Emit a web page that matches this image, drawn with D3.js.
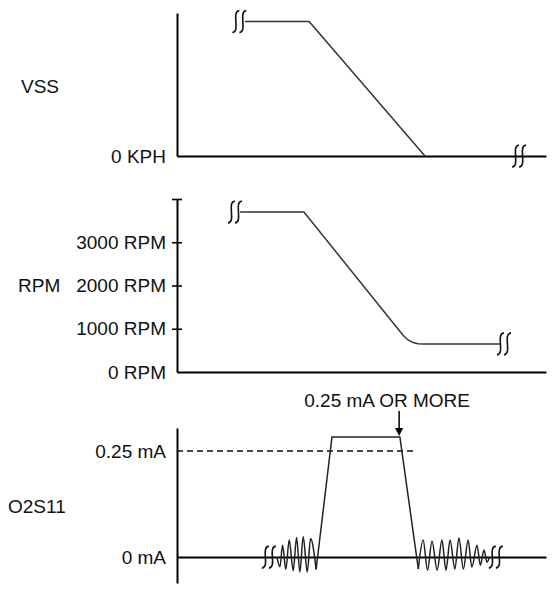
<!DOCTYPE html>
<html>
<head>
<meta charset="utf-8">
<script src="https://cdn.jsdelivr.net/npm/d3@7"></script>
<style>
  body { margin: 0; background: #fff; }
  text { font-family: "Liberation Sans", Arial, sans-serif; }
</style>
</head>
<body>
<div id="chart"></div>
<script>
// time runs 0..100 across all three traces (arbitrary units)
var timeDomain = [0, 100];

// VSS trace
var vssT = [18.4, 35.8, 67.2];
var vssKph = [47, 47, 0];
var vssMax = 50;
var vssBreaks = [[16.9, 47], [92.7, 0]];

// RPM trace
var rpmT = [17.1, 34.4, 61.2, 62.6, 64.0, 65.3, 66.9, 87.5];
var rpmVal = [3700, 3700, 855, 740, 680, 655, 650, 650];
var rpmTicks = [0, 1000, 2000, 3000, 4000];
var rpmBreaks = [[15.7, 3700], [88.6, 650]];

// O2S11 trace (mA): noise before, pulse, noise after
var o2LeftT = [27.1, 27.9, 28.6, 29.5, 30.4, 31.5, 32.4, 33.3, 34.2, 35.3, 36.2, 37.7];
var o2LeftMa = [0, -0.023, 0.028, -0.029, 0.040, -0.032, 0.046, -0.035, 0.048, -0.035, 0.044, -0.029];
var o2PulseT = [37.7, 42.0, 60.4, 65.4];
var o2PulseMa = [-0.029, 0.283, 0.283, -0.028];
var o2RightT = [65.4, 66.7, 67.9, 69.1, 70.5, 71.8, 72.9, 74.0, 75.3, 76.4, 77.6, 78.9, 79.9, 81.3, 82.2, 83.2, 84.0, 84.7];
var o2RightMa = [-0.028, 0.040, -0.031, 0.038, -0.031, 0.040, -0.031, 0.040, -0.028, 0.045, -0.028, 0.040, -0.024, 0.028, -0.019, 0.017, -0.012, 0];
var o2Ticks = [0, 0.25];
var o2Threshold = 0.25;
var o2ThresholdEnd = 64.5;
var o2ArrowAt = [60.2, 0.283];
var o2Breaks = [[24.9, 0], [86.4, 0]];

var width = 556, height = 593;
var fontSize = 19;

var svg = d3.select("#chart")
  .append("svg")
    .attr("width", width)
    .attr("height", height);

svg.append("rect")
  .attr("width", width)
  .attr("height", height)
  .attr("fill", "#fff");

var x = d3.scaleLinear().domain(timeDomain).range([177, 546]);

var yV = d3.scaleLinear().domain([0, vssMax]).range([156, 13]);
var yR = d3.scaleLinear().domain([0, 4000]).range([372, 199]);
var yO = d3.scaleLinear().domain([-0.061, 0.304]).range([583, 428]);

function zip(a, b) {
  return a.map(function(d, i) { return [d, b[i]]; });
}

function styleAxis(g) {
  g.attr("font-family", "Liberation Sans, Arial, sans-serif")
   .attr("font-size", fontSize);
  g.select(".domain").attr("stroke", "#000").attr("stroke-width", 2);
  g.selectAll(".tick text").attr("fill", "#111");
  g.selectAll(".tick line").attr("stroke", "#000").attr("stroke-width", 1.6).attr("x1", 5);
  g.selectAll(".tick").filter(function(d) { return d === 0 || d === 0.25; })
    .select("line").remove();
}

function xAxisAt(y) {
  var g = svg.append("g")
    .attr("transform", "translate(0," + y + ")")
    .call(d3.axisBottom(x).tickValues([]).tickSizeOuter(0));
  g.select(".domain").attr("stroke", "#000").attr("stroke-width", 2);
}

// break symbol (two wavy strokes)
function breakMark(cx, cy) {
  var p = "";
  [-3.5, 3.5].forEach(function(dx) {
    var c = cx + dx;
    p += "M" + (c + 3.5) + "," + (cy - 11) +
         "C" + (c - 5) + "," + (cy - 10) + " " + (c + 5) + "," + (cy + 10) + " " + (c - 3.5) + "," + (cy + 11);
  });
  return p;
}

function drawBreaks(list, yScale) {
  svg.append("g")
    .selectAll("path")
    .data(list)
    .enter()
    .append("path")
    .attr("d", function(d) { return breakMark(x(d[0]), yScale(d[1])); })
    .attr("fill", "none")
    .attr("stroke", "#111")
    .attr("stroke-width", 1.6);
}

function rowLabel(txt, px, py) {
  svg.append("text")
    .attr("x", px)
    .attr("y", py)
    .attr("dy", "0.35em")
    .attr("font-size", fontSize)
    .attr("fill", "#111")
    .text(txt);
}

// ---- VSS ----
svg.append("g")
  .attr("transform", "translate(177,0)")
  .call(d3.axisLeft(yV).tickValues([0]).tickFormat(function() { return "0 KPH"; })
    .tickSize(5).tickPadding(6).tickSizeOuter(0))
  .call(styleAxis);
xAxisAt(yV(0));

svg.append("path")
  .datum(zip(vssT, vssKph))
  .attr("d", d3.line().x(function(d) { return x(d[0]); }).y(function(d) { return yV(d[1]); }))
  .attr("fill", "none")
  .attr("stroke", "#333")
  .attr("stroke-width", 1.5);
drawBreaks(vssBreaks, yV);
rowLabel("VSS", 21, 86);

// ---- RPM ----
svg.append("g")
  .attr("transform", "translate(177,0)")
  .call(d3.axisLeft(yR).tickValues(rpmTicks)
    .tickFormat(function(d) { return d === 4000 ? "" : d + " RPM"; })
    .tickSize(5).tickPadding(6).tickSizeOuter(0))
  .call(styleAxis);
xAxisAt(yR(0));

svg.append("path")
  .datum(zip(rpmT, rpmVal))
  .attr("d", d3.line().x(function(d) { return x(d[0]); }).y(function(d) { return yR(d[1]); }))
  .attr("fill", "none")
  .attr("stroke", "#333")
  .attr("stroke-width", 1.5);
drawBreaks(rpmBreaks, yR);
rowLabel("RPM", 18, 285);

// ---- O2S11 ----
svg.append("g")
  .attr("transform", "translate(177,0)")
  .call(d3.axisLeft(yO).tickValues(o2Ticks)
    .tickFormat(function(d) { return d + " mA"; })
    .tickSize(5).tickPadding(6).tickSizeOuter(0))
  .call(styleAxis);
xAxisAt(yO(0));

svg.append("line")
  .attr("x1", x(0)).attr("x2", x(o2ThresholdEnd))
  .attr("y1", yO(o2Threshold)).attr("y2", yO(o2Threshold))
  .attr("stroke", "#111")
  .attr("stroke-width", 1.4)
  .attr("stroke-dasharray", "6,4");

var waveLine = d3.line()
  .x(function(d) { return x(d[0]); })
  .y(function(d) { return yO(d[1]); })
  .curve(d3.curveMonotoneX);
var pulseLine = d3.line()
  .x(function(d) { return x(d[0]); })
  .y(function(d) { return yO(d[1]); });

svg.append("path").datum(zip(o2LeftT, o2LeftMa))
  .attr("d", waveLine)
  .attr("fill", "none").attr("stroke", "#222").attr("stroke-width", 1.5);
svg.append("path").datum(zip(o2PulseT, o2PulseMa))
  .attr("d", pulseLine)
  .attr("fill", "none").attr("stroke", "#222").attr("stroke-width", 1.5);
svg.append("path").datum(zip(o2RightT, o2RightMa))
  .attr("d", waveLine)
  .attr("fill", "none").attr("stroke", "#222").attr("stroke-width", 1.5);
drawBreaks(o2Breaks, yO);

// arrow + callout
var ax = x(o2ArrowAt[0]), ay = yO(o2ArrowAt[1]) - 1;
svg.append("line")
  .attr("x1", ax).attr("x2", ax)
  .attr("y1", ay - 25).attr("y2", ay - 6)
  .attr("stroke", "#000").attr("stroke-width", 1.5);
svg.append("path")
  .attr("d", "M" + (ax - 4) + "," + (ay - 8) + "L" + (ax + 4) + "," + (ay - 8) + "L" + ax + "," + ay + "Z")
  .attr("fill", "#000");
svg.append("text")
  .attr("x", ax - 12)
  .attr("y", ay - 29)
  .attr("text-anchor", "middle")
  .attr("font-size", fontSize)
  .attr("fill", "#111")
  .text("0.25 mA OR MORE");

rowLabel("O2S11", 8, 506);
</script>
</body>
</html>
